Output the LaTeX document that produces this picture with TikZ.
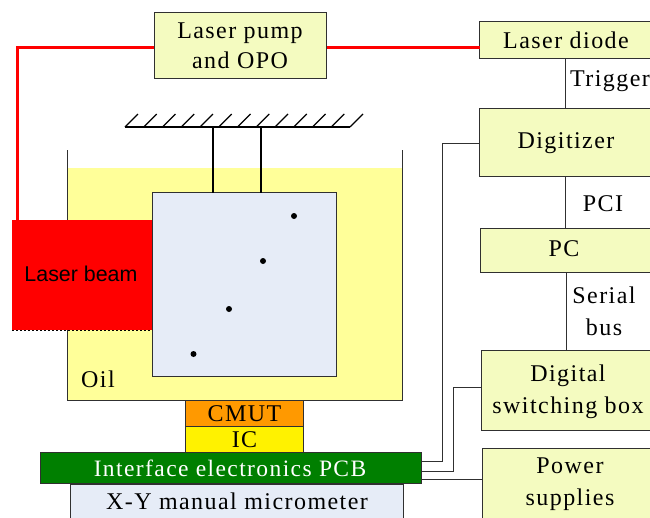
\documentclass[tikz,border=0pt]{standalone}
\usepackage{fontspec}
\usetikzlibrary{calc}
\setmainfont{Liberation Serif}[LetterSpace=6]
\newfontfamily\beamfont{Liberation Sans}
\definecolor{boxfill}{HTML}{F4FBC0}
\definecolor{oilfill}{HTML}{FFFF99}
\definecolor{bluefill}{HTML}{E6ECF7}
\definecolor{lineg}{HTML}{303030}
\definecolor{cmutfill}{HTML}{FF9900}
\definecolor{pcbfill}{HTML}{007F00}
\tikzset{
  every node/.style={inner sep=0pt,outer sep=0pt,font=\fontsize{24}{32}\selectfont,align=center,text=black},
  block/.style={draw=lineg,line width=1pt,anchor=north west},
  boxA/.style={block,fill=boxfill},
  wire/.style={draw=lineg,line width=1pt},
  redline/.style={draw=red,line width=3pt},
  bead/.style={circle,fill=black,minimum size=6pt},
  lbl/.style={anchor=center},
}
\begin{document}
\begin{tikzpicture}[x=1pt,y=-1pt]
\useasboundingbox (0,0) rectangle (650,517);
% oil and tank
\fill[oilfill] (67,168) rectangle (402,400);
\coordinate (wallTL) at (67,150);
\coordinate (wallBL) at (67,400);
\coordinate (wallTR) at (402,150);
\coordinate (wallBR) at (402,400);
\draw[wire] (wallTL) -- (wallBL) -- (wallBR) -- (wallTR);
% hatch support
\coordinate (barL) at (125,127);
\coordinate (barR) at (350,127);
\draw[line width=1.2pt,draw=black] (barL) -- (barR);
\foreach \i in {0,...,12}{\draw[line width=1.2pt,draw=black] ($(barL)+(\i*18.75,0)$) -- +(13,-13);}
% sample
\node[block,fill=bluefill,minimum width=184pt,minimum height=184pt] (sample) at (152.5,192.5) {};
\coordinate (hangA) at (213,127);
\coordinate (hangB) at (261,127);
\draw[line width=1.1pt,draw=black] (hangA) -- (hangA |- sample.north);
\draw[line width=1.1pt,draw=black] (hangB) -- (hangB |- sample.north);
\node[bead] (b1) at (294,216) {};
\node[bead] (b2) at (263,261) {};
\node[bead] (b3) at (229,309) {};
\node[bead] (b4) at (193.5,354) {};
% beam
\node[anchor=north west,fill=red,minimum width=140pt,minimum height=110pt] (beam) at (12,220) {};
\node[font=\beamfont\fontsize{21.4}{26}\selectfont] (beamlbl) at (81,274) {Laser beam};
\draw[black,line width=1pt,dash pattern=on 2pt off 2pt] (beam.south west) -- (beam.south east);
\node[lbl] (oil) at (98,379) {Oil};
% top boxes
\node[boxA,minimum width=172pt,minimum height=66pt] (pump) at (154.5,12.5) {};
\node[lbl] (pumplbl) at (240,46) {Laser pump\\[-2pt]and OPO};
\node[boxA,minimum width=172pt,minimum height=37pt] (diode) at (479.5,21.5) {};
\node[lbl] (diodelbl) at (566,40.5) {Laser diode};
\node[boxA,minimum width=172pt,minimum height=68pt] (digi) at (479.5,108.5) {};
\node[lbl] (digilbl) at (566,143) {Digitizer};
\node[boxA,minimum width=171pt,minimum height=44pt] (pc) at (480,228.5) {};
\node[lbl] (pclbl) at (564,249) {PC};
\node[boxA,minimum width=171pt,minimum height=80pt] (dsb) at (481,350.5) {};
\node[lbl] (dsblbl) at (568,392) {Digital\\switching box};
\node[boxA,minimum width=170pt,minimum height=71pt] (power) at (482,448) {};
\node[lbl] (powerlbl) at (570,484) {Power\\supplies};
% stack
\node[block,fill=cmutfill,minimum width=118pt,minimum height=26pt] (cmut) at (185.5,400) {};
\node[lbl] at ([yshift=-0.5pt]cmut.center) {CMUT};
\node[block,fill=yellow,minimum width=118pt,minimum height=26pt] (ic) at (185.5,426) {};
\node[lbl] at ([yshift=-0.5pt]ic.center) {IC};
\node[block,fill=bluefill,minimum width=333pt,minimum height=40pt] (micro) at (70.5,484) {};
\node[lbl] (microlbl) at (237,501) {X-Y manual micrometer};
\node[block,fill=pcbfill,minimum width=381pt,minimum height=31pt] (pcb) at (40.5,452.5) {};
\node[lbl,text=white,font=\fontsize{23.5}{32}\selectfont] (pcblbl) at (230,468.5) {Interface electronics PCB};
% red fibres
\coordinate (redcorner) at (17,47);
\coordinate (pumpL) at (154,47);
\coordinate (pumpR) at (327,47);
\coordinate (diodeL) at (480,47);
\draw[redline,line join=miter] (pumpL) -- (redcorner) -- (redcorner |- beam.north);
\draw[redline] (pumpR) -- (diodeL);
% bus connectors
\draw[wire] (diode.south) -- (digi.north);
\draw[wire] (digi.south) -- (pc.north);
\coordinate (pcbus) at (566,273);
\draw[wire] (pcbus) -- (pcbus |- dsb.north);
\node[lbl] (trig) at (610,81) {Trigger};
\node[lbl] (pci) at (603,204) {PCI};
\node[lbl] (serial) at (604,311.5) {Serial\\bus};
% routes to PCB
\coordinate (pcbA) at (422,461.5);
\coordinate (pcbB) at (422,471);
\coordinate (pcbC) at (422,479.5);
\coordinate (dsbW) at (481,387);
\coordinate (routeA) at (442,143);
\coordinate (routeB) at (453.5,387);
\draw[wire] (digi.west |- routeA) -- (routeA) -- (routeA |- pcbA) -- (pcbA);
\draw[wire] (dsbW) -- (routeB) -- (routeB |- pcbB) -- (pcbB);
\draw[wire] (pcbC) -- (pcbC -| power.west);
\end{tikzpicture}
\end{document}
